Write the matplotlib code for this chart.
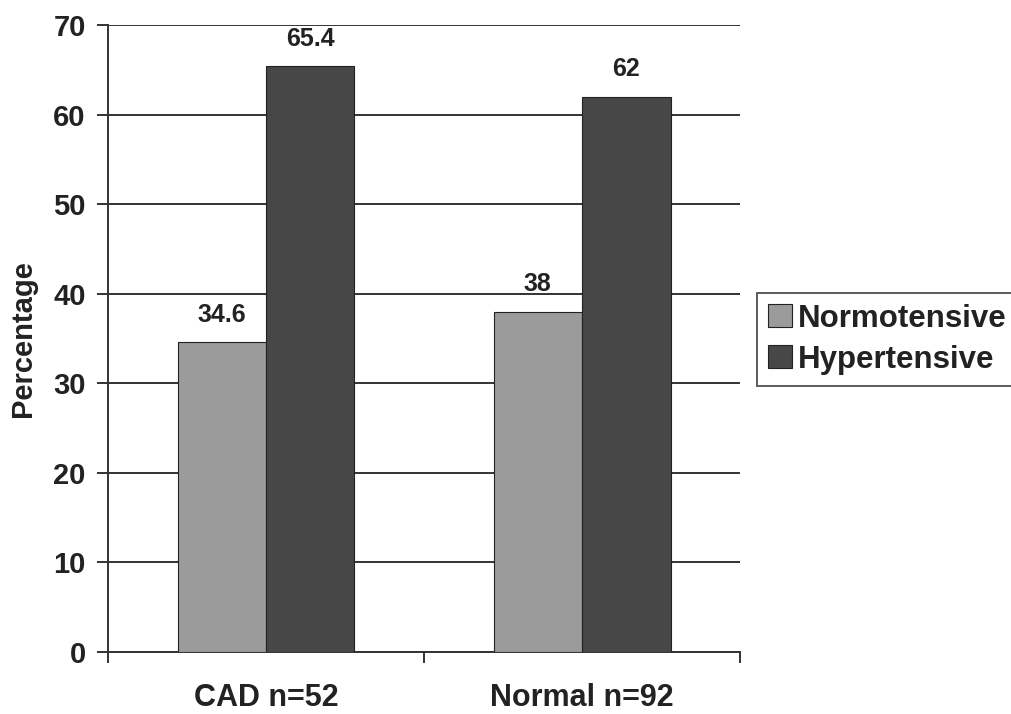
import numpy as np
import matplotlib
matplotlib.use('Agg')
import matplotlib.pyplot as plt

plt.rcParams['font.family'] = ['Liberation Sans', 'DejaVu Sans']
plt.rcParams['font.weight'] = 'bold'

groups = ['CAD n=52', 'Normal n=92']
series = ['Normotensive', 'Hypertensive']
normotensive = [34.6, 38]
hypertensive = [65.4, 62]
colors = ['#9b9b9b', '#474747']

fig = plt.figure(figsize=(10.11, 7.14), dpi=100)
ax = fig.add_axes([0.1068, 0.0868, 0.6252, 0.878])

x = np.arange(len(groups))
width = 0.28

b1 = ax.bar(x - width / 2, normotensive, width, color=colors[0],
            edgecolor='#222222', linewidth=0.8, label=series[0], zorder=3)
b2 = ax.bar(x + width / 2, hypertensive, width, color=colors[1],
            edgecolor='#222222', linewidth=0.8, label=series[1], zorder=3)
ax.bar_label(b1, labels=['34.6', '38'], padding=11, fontsize=18, fontweight='bold', color='#222222')
ax.bar_label(b2, labels=['65.4', '62'], padding=11, fontsize=18, fontweight='bold', color='#222222')

ax.set_xlim(-0.5, len(groups) - 0.5)
ax.set_ylim(0, 70)
ax.set_yticks(np.arange(0, 71, 10))
ax.yaxis.grid(True, color='#333333', linewidth=1.4, zorder=0)
ax.set_axisbelow(True)

# category boundaries get tick marks, labels sit at the centres
ax.set_xticks(np.arange(-0.5, len(groups), 1.0))
ax.set_xticklabels([])
ax.set_xticks(x, minor=True)
ax.set_xticklabels(groups, minor=True, fontsize=22, fontweight='bold', color='#222222')
ax.tick_params(axis='x', which='minor', length=0, pad=22)
ax.tick_params(axis='x', which='major', direction='out', length=8, width=1.4, color='#333333')
ax.tick_params(axis='y', direction='out', length=8, width=1.4, color='#333333',
               labelsize=21, labelcolor='#222222', pad=8)
for lab in ax.get_yticklabels():
    lab.set_fontweight('bold')

ax.set_ylabel('Percentage', fontsize=21, fontweight='bold', color='#222222', labelpad=12)

for side in ['top', 'right']:
    ax.spines[side].set_visible(False)
for side in ['left', 'bottom']:
    ax.spines[side].set_color('#333333')
    ax.spines[side].set_linewidth(1.4)

leg = fig.legend(loc='center left', bbox_to_anchor=(0.749, 0.525),
                 prop={'size': 22.5, 'weight': 'bold'}, frameon=True, fancybox=False,
                 handlelength=0.75, handleheight=0.75, handletextpad=0.2,
                 borderpad=0.35, labelspacing=0.35, borderaxespad=0)
leg.get_frame().set_edgecolor('#333333')
leg.get_frame().set_linewidth(1.4)
for t in leg.get_texts():
    t.set_color('#222222')

fig.savefig('out.png', dpi=100)
